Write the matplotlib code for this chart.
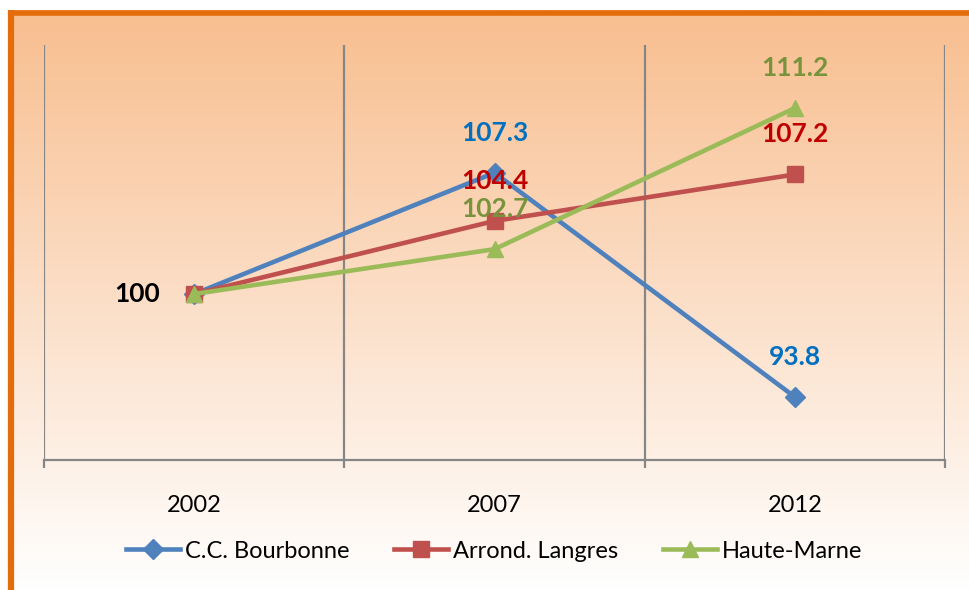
import matplotlib.pyplot as plt
import numpy as np

years = ["2002", "2007", "2012"]
bourbonne = [100, 107.3, 93.8]
langres = [100, 104.4, 107.2]
haute_marne = [100, 102.7, 111.2]

plt.rcParams['font.family'] = ['Lato', 'DejaVu Sans']

W, H = 969, 590
fig = plt.figure(figsize=(W / 100, H / 100), dpi=100)

# background: orange -> white gradient, orange border top/left
bg = fig.add_axes([0, 0, 1, 1])
bg.set_xlim(0, W)
bg.set_ylim(H, 0)
bg.axis('off')
top = np.array([248, 190, 143]) / 255
bot = np.array([255, 255, 255]) / 255
t = np.linspace(0, 1, 256)[:, None]
grad = (top * (1 - t) + bot * t).reshape(256, 1, 3)
bg.imshow(grad, extent=[8, W, H, 10], aspect='auto', zorder=0)
bg.plot([11, 11], [10, H], color='#E46C0A', lw=4.5, solid_capstyle='butt', zorder=1)
bg.plot([8, W], [12.5, 12.5], color='#E46C0A', lw=4, solid_capstyle='butt', zorder=1)

ax = fig.add_axes([44 / W, 130 / H, (945 - 44) / W, 415 / H])
ax.set_facecolor('none')
x = np.arange(len(years))
ax.set_xlim(-0.5, len(years) - 0.5)
ax.set_ylim(90, 115)

for b in np.arange(-0.5, len(years), 1.0):
    ax.axvline(b, color='#868686', lw=1.6, zorder=1)

series = [
    ("C.C. Bourbonne", bourbonne, '#4F81BD', 'D', 10, '#0070C0'),
    ("Arrond. Langres", langres, '#C0504D', 's', 11, '#C00000'),
    ("Haute-Marne", haute_marne, '#9BBB59', '^', 12, '#77933C'),
]
for name, vals, col, mk, ms, lcol in series:
    ax.plot(x, vals, color=col, lw=3.3, marker=mk, markersize=ms, label=name, zorder=3)
    for xi, v in zip(x[1:], vals[1:]):
        ax.annotate(f"{v:.1f}", (xi, v), xytext=(0, 40), textcoords='offset pixels',
                    ha='center', va='center', fontsize=19, fontweight='bold',
                    color=lcol, zorder=4)

ax.annotate("100", (x[0], bourbonne[0]), xytext=(-34, 0), textcoords='offset pixels',
            ha='right', va='center', fontsize=19, fontweight='bold', color='black')

for s in ['top', 'left', 'right']:
    ax.spines[s].set_visible(False)
ax.spines['bottom'].set_color('#868686')
ax.spines['bottom'].set_linewidth(1.6)
ax.set_yticks([])
ax.set_xticks(x)
ax.set_xticklabels(years, fontsize=17)
ax.tick_params(axis='x', which='major', length=0, pad=25)
ax.set_xticks(np.arange(-0.5, len(years), 1.0), minor=True)
ax.tick_params(axis='x', which='minor', length=6, width=1.6, color='#868686')

fig.legend(loc='center', bbox_to_anchor=(0.51, 39 / H), ncol=3, frameon=False,
           fontsize=17, handlelength=2.3, columnspacing=1.9, handletextpad=0.2)

fig.savefig('out.png', dpi=100)
